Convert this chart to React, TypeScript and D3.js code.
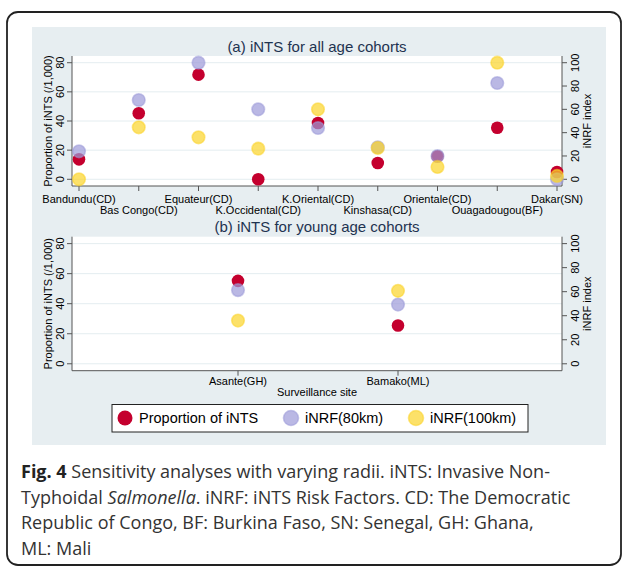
import React from "react"
import * as d3 from "d3"

// values (left axis: proportion, right axis: iNRF index)
const allSites = ["Bandundu(CD)", "Bas Congo(CD)", "Equateur(CD)", "K.Occidental(CD)", "K.Oriental(CD)", "Kinshasa(CD)", "Orientale(CD)", "Ouagadougou(BF)", "Dakar(SN)"]
const allProp = [13.7, 45.3, 71.8, 0, 38.6, 11.2, 15.8, 35.4, 5]
const allInrf80 = [24, 68, 100, 60, 44, 27.5, 20, 82.6, 0]
const allInrf100 = [0, 44.6, 36, 26.3, 60, 26.9, 10.6, 100, 2.9]

const youngSites = ["Asante(GH)", "Bamako(ML)"]
const youngProp = [55.2, 25.5]
const youngInrf80 = [61.3, 49.3]
const youngInrf100 = [36, 60.7]

const leftTicks = [0, 20, 40, 60, 80]
const rightTicks = [0, 20, 40, 60, 80, 100]
const legendLabels = ["Proportion of iNTS", "iNRF(80km)", "iNRF(100km)"]

const captionLines = [
  ["Sensitivity analyses with varying radii. iNTS: Invasive Non-"],
  ["Typhoidal ", "Salmonella", ". iNRF: iNTS Risk Factors. CD: The Democratic"],
  ["Republic of Congo, BF: Burkina Faso, SN: Senegal, GH: Ghana,"],
  ["ML: Mali"],
]

const font = "'Liberation Sans', Arial, sans-serif"
const RED = "#c4002e"
const PURPLE = "#9d9ad9"
const GOLD = "#fbd42a"
const left = 72
const right = 562

function Dot({ cx, cy, color, r = 6.3 }: any) {
  if (color === RED) return <circle cx={cx} cy={cy} r={r} fill={RED} />
  return (
    <circle cx={cx} cy={cy} r={r} fill={color} fillOpacity={0.7}
      stroke={color} strokeOpacity={0.55} strokeWidth={1.6} />
  )
}

function Panel({ title, sites, prop, inrf80, inrf100, top, bottom, xRange, rows, labelY, xTitle }: any) {
  const yL = d3.scaleLinear().domain([-4.6, 84.6]).range([bottom, top])
  const yR = d3.scaleLinear().domain([-5.75, 105.75]).range([bottom, top])
  const x = d3.scalePoint<string>().domain(sites).range(xRange)
  const mid = (top + bottom) / 2
  return (
    <g fontFamily={font}>
      <text x={317} y={top - 4.5} textAnchor="middle" fontSize={15} fill="#1e3350">{title}</text>
      <rect x={left} y={top} width={right - left} height={bottom - top} fill="#fff" />
      {leftTicks.map(t => (
        <line key={t} x1={left} x2={right} y1={yL(t)} y2={yL(t)} stroke="#e4edf0" strokeWidth={1} />
      ))}
      <line x1={left} x2={left} y1={top} y2={bottom} stroke="#555" />
      <line x1={right} x2={right} y1={top} y2={bottom} stroke="#555" />
      <line x1={left} x2={right} y1={bottom} y2={bottom} stroke="#555" />
      {leftTicks.map(t => (
        <g key={t}>
          <line x1={left - 5} x2={left} y1={yL(t)} y2={yL(t)} stroke="#555" />
          <text transform={`translate(${60},${yL(t)}) rotate(-90)`} textAnchor="middle" dominantBaseline="central" fontSize={11}>{t}</text>
        </g>
      ))}
      {rightTicks.map(t => (
        <g key={t}>
          <line x1={right} x2={right + 5} y1={yR(t)} y2={yR(t)} stroke="#555" />
          <text transform={`translate(${575},${yR(t)}) rotate(-90)`} textAnchor="middle" dominantBaseline="central" fontSize={11}>{t}</text>
        </g>
      ))}
      <text transform={`translate(48,${mid}) rotate(-90)`} textAnchor="middle" dominantBaseline="central" fontSize={11}>Proportion of iNTS (/1,000)</text>
      <text transform={`translate(587,${mid}) rotate(-90)`} textAnchor="middle" dominantBaseline="central" fontSize={11}>iNRF index</text>
      {sites.map((s: string, i: number) => (
        <g key={s}>
          <line x1={x(s)} x2={x(s)} y1={bottom} y2={bottom + 5} stroke="#555" />
          <text x={x(s)} y={labelY + (rows === 2 && i % 2 === 1 ? 11 : 0)} textAnchor="middle" fontSize={11}>{s}</text>
        </g>
      ))}
      {xTitle && <text x={317} y={labelY + 11} textAnchor="middle" fontSize={11}>{xTitle}</text>}
      {sites.map((s: string, i: number) => <Dot key={"r" + s} cx={x(s)} cy={yL(prop[i])} color={RED} />)}
      {sites.map((s: string, i: number) => <Dot key={"p" + s} cx={x(s)} cy={yR(inrf80[i])} color={PURPLE} />)}
      {sites.map((s: string, i: number) => <Dot key={"g" + s} cx={x(s)} cy={yR(inrf100[i])} color={GOLD} />)}
    </g>
  )
}

export default function App() {
  const legendX = [125, 291, 416]
  const legendColors = [RED, PURPLE, GOLD]
  return (
    <svg width={624} height={569} style={{ position: "absolute", left: 0, top: 0 }}>
      <rect width={624} height={569} fill="#fff" />
      <rect x={7} y={12} width={614} height={553} rx={11} fill="none" stroke="#222" strokeWidth={1.8} />
      <rect x={32} y={27} width={574} height={418} fill="#e7eef1" />
      <Panel title="(a) iNTS for all age cohorts" sites={allSites} prop={allProp} inrf80={allInrf80} inrf100={allInrf100}
        top={56} bottom={186} xRange={[79, 557]} rows={2} labelY={203} />
      <Panel title="(b) iNTS for young age cohorts" sites={youngSites} prop={youngProp} inrf80={youngInrf80} inrf100={youngInrf100}
        top={236.7} bottom={370.7} xRange={[238, 398]} rows={1} labelY={385} xTitle="Surveillance site" />
      <g fontFamily={font}>
        <rect x={112} y={404.5} width={416} height={27.5} fill="#fff" stroke="#222" strokeWidth={1} />
        {legendLabels.map((l, i) => (
          <g key={l}>
            <Dot cx={legendX[i]} cy={418} color={legendColors[i]} r={7.5} />
            <text x={legendX[i] + 14} y={423} fontSize={14.5}>{l}</text>
          </g>
        ))}
      </g>
      <g fontFamily="'Open Sans', sans-serif" fontSize={18} fill="#333">
        {captionLines.map((parts, i) => (
          <text key={i} x={21} y={478 + i * 25.7}>
            {i === 0 && <tspan fontWeight="bold" fill="#222">Fig. 4 </tspan>}
            {parts.map((p, j) => (
              <tspan key={j} fontStyle={p === "Salmonella" ? "italic" : "normal"}>{p}</tspan>
            ))}
          </text>
        ))}
      </g>
    </svg>
  )
}
